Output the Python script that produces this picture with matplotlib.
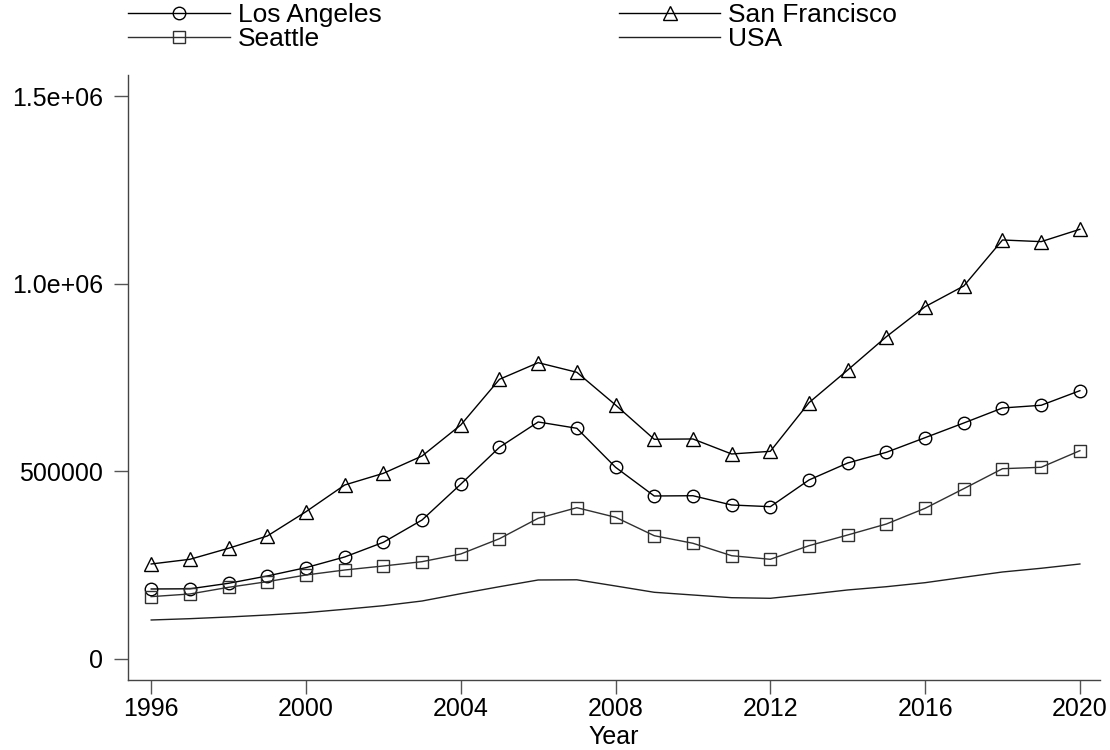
import matplotlib
matplotlib.use("Agg")
import matplotlib.pyplot as plt
import numpy as np

years = list(range(1996, 2021))

los_angeles = [186500, 187000, 201700, 221200, 243400, 271800, 310900, 370400, 465800,
               564100, 631500, 614700, 510800, 434300, 435000, 410300, 405800,
               477000, 522200, 550700, 589700, 628800, 668800, 676000, 714900]
san_francisco = [253100, 265600, 295000, 327700, 392500, 463600, 494700, 540900, 623500,
                 745200, 789500, 763900, 676800, 585400, 586200, 546200, 553300,
                 683000, 770000, 858800, 938700, 993900, 1116400, 1112000, 1144900]
seattle = [166100, 173200, 191000, 206000, 223800, 237100, 247800, 259300, 279800,
           320500, 374900, 403100, 377600, 328500, 308300, 275200, 265600,
           301900, 330400, 359700, 401500, 453800, 507000, 510800, 555000]
usa = [103900, 107400, 111900, 117200, 123400, 132400, 142000, 154500, 174000,
       192600, 210500, 211000, 194500, 177700, 170500, 163300, 161700,
       172400, 183900, 192600, 203300, 217700, 231800, 241700, 253100]

plt.rcParams['font.family'] = ['Liberation Sans', 'DejaVu Sans']

fig = plt.figure(figsize=(11.1, 7.5), dpi=100)
ax = fig.add_axes([128 / 1110, 70 / 750, 972 / 1110, 605 / 750])

mk = dict(markersize=9, markerfacecolor='none', markeredgewidth=1.0, linewidth=1.0)
l_la, = ax.plot(years, los_angeles, color='black', marker='o', label='Los Angeles', **mk)
l_sf, = ax.plot(years, san_francisco, color='black', marker='^', label='San Francisco',
                **dict(mk, markersize=10))
l_se, = ax.plot(years, seattle, color='#303030', marker='s', label='Seattle', **mk)
l_us, = ax.plot(years, usa, color='#202020', linewidth=1.0, label='USA')

ax.set_xlim(1995.4, 2020.52)
ax.set_ylim(-56000, 1556000)
ax.set_xticks(range(1996, 2021, 4))
ax.set_yticks([0, 500000, 1000000, 1500000])
ax.set_yticklabels(['0', '500000', '1.0e+06', '1.5e+06'])

for s in ['top', 'right']:
    ax.spines[s].set_visible(False)
for s in ['left', 'bottom']:
    ax.spines[s].set_linewidth(1.0)
    ax.spines[s].set_color('#444444')
ax.tick_params(direction='out', length=10, width=1.0, color='#555555', labelsize=18)
ax.tick_params(axis='y', pad=8)
ax.tick_params(axis='x', pad=2)

ax.set_xlabel('Year', fontsize=18, labelpad=3)

leg = fig.legend([l_la, l_se, l_sf, l_us], ['Los Angeles', 'Seattle', 'San Francisco', 'USA'],
                 loc='upper left', bbox_to_anchor=(128 / 1110, 1 - 3 / 750), ncol=2,
                 frameon=False, fontsize=19, handlelength=3.85, handletextpad=0.3,
                 columnspacing=9.0, labelspacing=0.0, borderaxespad=0.0, borderpad=0.0)

fig.savefig('out.png', dpi=100)
